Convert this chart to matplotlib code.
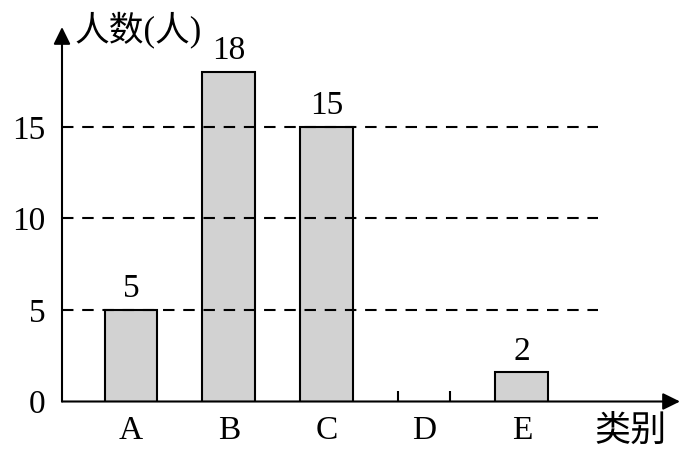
import matplotlib
matplotlib.use("Agg")
import matplotlib.pyplot as plt

# data
categories = ["A", "B", "C", "D", "E"]
bar_heights = [5, 18, 15, 0, 1.6]       # heights as drawn
bar_labels = ["5", "18", "15", "", "2"]  # numbers written above the bars
yticks = [0, 5, 10, 15]
grid_levels = [5, 10, 15]

FONT = ["Liberation Serif", "Noto Sans CJK SC", "DejaVu Sans"]
plt.rcParams["font.family"] = FONT
plt.rcParams["font.size"] = 24

BAR = "#d2d2d2"

fig = plt.figure(figsize=(6.95, 4.65), dpi=100)
W, H = 695, 465
# axes box in pixels: left axis at x=62, baseline at y=401.5, arrows end at x=680 / y=27
ax = fig.add_axes([62 / W, (H - 401.5) / H, (680 - 62) / W, (401.5 - 27) / H])

x = list(range(len(categories)))
bars = ax.bar(x, bar_heights, width=0.54, color=BAR, edgecolor="black",
              linewidth=1.5, zorder=2)
ax.bar_label(bars, labels=bar_labels, padding=4, fontsize=24)

# the empty D column: only its two edge ticks on the baseline
d = bars[3]
ax.vlines([d.get_x(), d.get_x() + d.get_width()], 0, 0.55, color="black",
          lw=1.5, zorder=3)

ax.set_xlim(-0.707, 5.62)
ax.set_ylim(0, 20.46)

# dashed reference lines
ax.hlines(grid_levels, -0.707, 4.78, colors="black", lw=1.5,
          linestyles=(0, (5.5, 4.2)), zorder=3)

ax.set_xticks(x, categories)
ax.set_yticks(yticks)
ax.tick_params(axis="x", length=0, pad=10, labelsize=24)
ax.tick_params(axis="y", length=0, pad=12, labelsize=24)
for s in ax.spines.values():
    s.set_visible(False)

arrow = dict(arrowstyle="-|>,head_length=0.65,head_width=0.32", mutation_scale=16,
             color="black", lw=1.5, shrinkA=0, shrinkB=0)
ax.annotate("", xy=(0, 1), xytext=(0, 0), xycoords="axes fraction",
            arrowprops=arrow, annotation_clip=False)
ax.annotate("", xy=(1, 0), xytext=(0, 0), xycoords="axes fraction",
            arrowprops=arrow, annotation_clip=False)

fig.text(75 / W, 1 - 30 / H, "人数(人)", ha="left", va="center", fontsize=25)
fig.text(631 / W, 1 - 432 / H, "类别", ha="center", va="center", fontsize=26)

fig.savefig("out.png", dpi=100, facecolor="white")
